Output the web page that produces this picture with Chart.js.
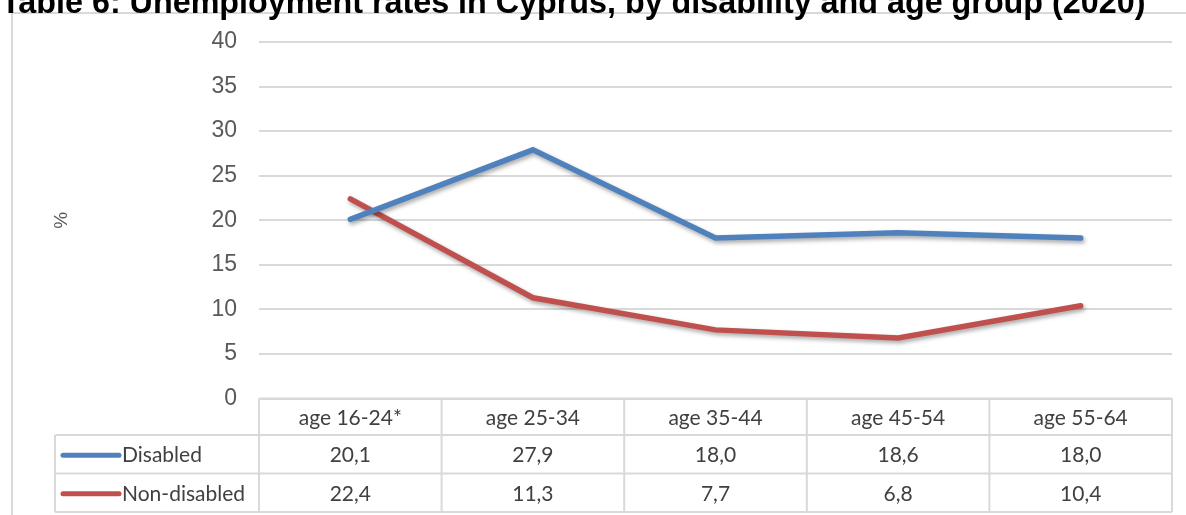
<!DOCTYPE html>
<html>
<head>
<meta charset="utf-8">
<script src="https://cdn.jsdelivr.net/npm/chart.js@4.4.1/dist/chart.umd.min.js"></script>
<style>
  body { margin: 0; background: #fff; }
  #wrap { position: relative; width: 1186px; height: 515px; overflow: hidden; }
  #frame { position: absolute; left: 11px; top: 12px; width: 1300px; height: 600px;
           border-top: 2px solid #d9d9d9; border-left: 2px solid #d9d9d9; }
  #title { position: absolute; left: 1px; top: -14px; margin: 0; white-space: nowrap;
           font: bold 32.3px/32px "Liberation Sans", Arial, sans-serif; color: #000; }
  #box { position: absolute; left: 0; top: 0; width: 1186px; height: 515px; }
</style>
</head>
<body>
<div id="wrap">
  <div id="frame"></div>
  <div id="box"><canvas id="myChart"></canvas></div>
  <div id="title">Table 6: Unemployment rates in Cyprus, by disability and age group (2020)</div>
</div>
<script>
// data
var categories = ['age 16-24*', 'age 25-34', 'age 35-44', 'age 45-54', 'age 55-64'];
var seriesNames = ['Disabled', 'Non-disabled'];
var disabled = [20.1, 27.9, 18.0, 18.6, 18.0];
var nonDisabled = [22.4, 11.3, 7.7, 6.8, 10.4];
var yMin = 0, yMax = 40, yStep = 5;

var blue = '#4f81bd';
var red = '#c0504d';
var gridColor = '#d9d9d9';
var tableFont = '21px Lato, "Noto Sans", sans-serif';

// soft shadow under the lines, like excel does
var lineShadow = {
  id: 'lineShadow',
  beforeDatasetDraw: function(chart) {
    var ctx = chart.ctx;
    ctx.save();
    ctx.shadowColor = 'rgba(0,0,0,0.35)';
    ctx.shadowBlur = 4;
    ctx.shadowOffsetX = 1.5;
    ctx.shadowOffsetY = 2.5;
  },
  afterDatasetDraw: function(chart) {
    chart.ctx.restore();
  }
};

// data table under the plot, columns follow the x scale
var dataTable = {
  id: 'dataTable',
  afterDraw: function(chart) {
    var ctx = chart.ctx;
    var area = chart.chartArea;
    var x = chart.scales.x;
    var colW = (area.right - area.left) / categories.length;
    var rows = [area.bottom, area.bottom + 36.5, area.bottom + 75, area.bottom + 113.5];
    var tableLeft = 55;

    ctx.save();
    ctx.strokeStyle = gridColor;
    ctx.lineWidth = 2;
    ctx.beginPath();
    // horizontal lines
    ctx.moveTo(area.left, rows[0]); ctx.lineTo(area.right, rows[0]);
    for (var r = 1; r < rows.length; r++) {
      ctx.moveTo(tableLeft, rows[r]); ctx.lineTo(area.right, rows[r]);
    }
    // vertical lines
    ctx.moveTo(tableLeft, rows[1]); ctx.lineTo(tableLeft, rows[3]);
    for (var c = 0; c <= categories.length; c++) {
      var vx = area.left + c * colW;
      ctx.moveTo(vx, rows[0]); ctx.lineTo(vx, rows[3]);
    }
    ctx.stroke();

    ctx.font = tableFont;
    ctx.fillStyle = '#404040';
    ctx.textBaseline = 'middle';
    ctx.textAlign = 'center';
    categories.forEach(function(cat, i) {
      ctx.fillText(cat, x.getPixelForValue(i), (rows[0] + rows[1]) / 2 + 1);
    });

    chart.data.datasets.forEach(function(ds, d) {
      var cy = (rows[d + 1] + rows[d + 2]) / 2 + 1;
      // legend key
      ctx.strokeStyle = ds.borderColor;
      ctx.lineWidth = 5;
      ctx.lineCap = 'round';
      ctx.beginPath();
      ctx.moveTo(63, cy); ctx.lineTo(119, cy);
      ctx.stroke();
      ctx.textAlign = 'left';
      ctx.fillText(ds.label, 122, cy);
      ctx.textAlign = 'center';
      ds.data.forEach(function(v, i) {
        ctx.fillText(v.toFixed(1).replace('.', ','), x.getPixelForValue(i), cy);
      });
    });
    ctx.restore();
  }
};

var ctx = document.getElementById('myChart').getContext('2d');
var chart = new Chart(ctx, {
  type: 'line',
  data: {
    labels: categories,
    datasets: [{
      label: seriesNames[0],
      data: disabled,
      borderColor: blue,
      backgroundColor: blue,
      borderWidth: 5.5,
      borderCapStyle: 'round',
      pointRadius: 0,
      tension: 0
    }, {
      label: seriesNames[1],
      data: nonDisabled,
      borderColor: red,
      backgroundColor: red,
      borderWidth: 5.5,
      borderCapStyle: 'round',
      pointRadius: 0,
      tension: 0
    }]
  },
  options: {
    responsive: true,
    maintainAspectRatio: false,
    animation: false,
    layout: { padding: { top: 42, right: 14, bottom: 116.5, left: 0 } },
    plugins: {
      legend: { display: false },
      tooltip: { enabled: false }
    },
    scales: {
      x: {
        display: false,
        offset: true
      },
      y: {
        min: yMin,
        max: yMax,
        afterFit: function(scale) { scale.width = 259; },
        ticks: {
          stepSize: yStep,
          padding: 22,
          color: '#595959',
          font: { family: '"Liberation Sans", Arial, sans-serif', size: 23 }
        },
        grid: { color: gridColor, lineWidth: 2, drawTicks: false },
        border: { display: false },
        title: {
          display: true,
          text: '%',
          color: '#595959',
          font: { family: '"Liberation Sans", Arial, sans-serif', size: 19 },
          padding: { top: 50, bottom: 0 }
        }
      }
    }
  },
  plugins: [lineShadow, dataTable]
});
</script>
</body>
</html>
